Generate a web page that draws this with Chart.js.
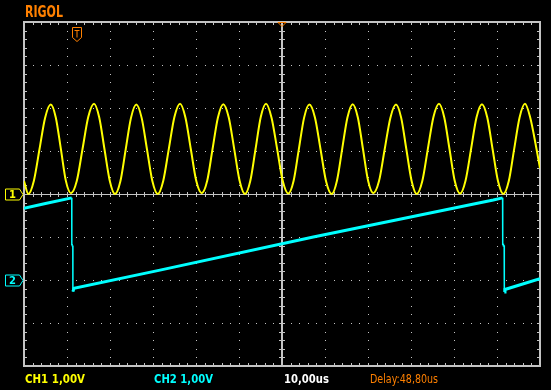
<!DOCTYPE html>
<html>
<head>
<meta charset="utf-8">
<script src="https://cdn.jsdelivr.net/npm/chart.js@4.4.1/dist/chart.umd.min.js"></script>
<style>
  html, body { margin: 0; padding: 0; background: #000; overflow: hidden; }
  canvas { display: block; }
</style>
</head>
<body>
<canvas id="scope" width="551" height="390"></canvas>
<script>
// Rigol screen capture: CH1 sine, CH2 sawtooth, 10us/div, 1V/div

// CH1 - time (us from left edge of screen) and volts, one row per period
const ch1Time = [
  0,
  1.0, 2.3, 3.6, 4.9, 6.21, 7.39, 8.57, 9.75,
  10.93, 12.27, 13.6, 14.94, 16.28, 17.5, 18.72, 19.94,
  21.16, 22.4, 23.64, 24.88, 26.12, 27.36, 28.6, 29.85,
  31.09, 32.39, 33.68, 34.98, 36.28, 37.54, 38.8, 40.07,
  41.33, 42.59, 43.84, 45.1, 46.35, 47.62, 48.88, 50.14,
  51.4, 52.62, 53.84, 55.06, 56.28, 57.58, 58.88, 60.18,
  61.47, 62.69, 63.9, 65.13, 66.35, 67.66, 68.96, 70.26,
  71.56, 72.78, 74.0, 75.22, 76.44, 77.64, 78.84, 80.04,
  81.23, 82.56, 83.88, 85.2, 86.51, 87.72, 88.92, 90.13,
  91.33, 92.63, 93.92, 95.22, 96.51, 97.74, 98.96, 100.18,
  101.4, 102.68, 103.96, 105.23, 106.5, 107.74, 108.98, 110.23,
  111.47, 112.74, 114.0, 115.25, 116.5, 117.75, 119.2, 120
];
const ch1Volts = [
  0.3,
  0.0, 0.31, 1.04, 1.77, 2.08, 1.78, 1.05, 0.3,
  0.02, 0.3, 1.04, 1.79, 2.1, 1.78, 1.04, 0.31,
  0.0, 0.29, 1.03, 1.77, 2.08, 1.77, 1.04, 0.3,
  0.0, 0.31, 1.05, 1.79, 2.1, 1.78, 1.04, 0.3,
  0.02, 0.3, 1.04, 1.78, 2.09, 1.78, 1.05, 0.31,
  0.0, 0.3, 1.04, 1.79, 2.1, 1.77, 1.04, 0.3,
  0.01, 0.3, 1.03, 1.77, 2.08, 1.78, 1.04, 0.29,
  0.0, 0.31, 1.05, 1.78, 2.09, 1.78, 1.04, 0.3,
  0.02, 0.3, 1.04, 1.77, 2.08, 1.77, 1.04, 0.31,
  0.0, 0.3, 1.05, 1.79, 2.1, 1.78, 1.04, 0.3,
  0.01, 0.31, 1.04, 1.78, 2.09, 1.78, 1.04, 0.3,
  0.0, 0.3, 1.05, 1.78, 2.1, 1.77, 1.04, 0.6
];

// CH2 - sawtooth
const ch2Time = [0, 5.0, 11.1, 11.12, 11.35, 11.37, 11.63, 31.63, 67.28, 109.14,
  111.3, 111.33, 111.67, 111.7, 111.86, 120];
const ch2Volts = [1.67, 1.78, 1.91, 0.8, 0.8, -0.27, -0.19, 0.23, 1.0, 1.86,
  1.91, 0.81, 0.81, -0.28, -0.22, 0.03];

// channel ground positions in divisions from screen centre
const ch1Offset = 0;
const ch2Offset = -2;
const triggerTime = 11.2;

const statusLabels = ['CH1 1,00V', 'CH2 1,00V', '10,00us', 'Delay:48,80us'];

const colors = {
  ch1: '#ffff00',
  ch2: '#00ffff',
  grid: '#c4c4c4',
  orange: '#ff8000',
  white: '#ffffff'
};

function toPoints(times, volts, offset) {
  return times.map((t, i) => ({ x: t, y: volts[i] + offset }));
}

const graticule = {
  id: 'graticule',
  beforeDatasetsDraw(chart) {
    const { ctx, chartArea: a } = chart;
    const dx = (a.right - a.left) / 12;
    const dy = (a.bottom - a.top) / 8;
    ctx.save();
    ctx.fillStyle = colors.grid;

    // dotted division lines
    for (let i = 1; i < 12; i++) {
      if (i === 6) continue;
      const px = Math.round(a.left + i * dx);
      for (let k = 1; k < 40; k++) {
        ctx.fillRect(px, Math.round(a.top + k * dy / 5), 1, 1);
      }
    }
    for (let j = 1; j < 8; j++) {
      if (j === 4) continue;
      const py = Math.round(a.top + j * dy);
      for (let k = 1; k < 60; k++) {
        ctx.fillRect(Math.round(a.left + k * dx / 5), py, 1, 1);
      }
    }

    // centre cross with small ticks
    const cx = Math.round(a.left + 6 * dx);
    const cy = Math.round(a.top + 4 * dy);
    ctx.fillRect(cx - 1, a.top, 2, a.bottom - a.top);
    ctx.fillRect(a.left, cy, a.right - a.left, 1);
    for (let k = 1; k < 40; k++) {
      ctx.fillRect(cx - 3, Math.round(a.top + k * dy / 5), 6, 1);
    }
    for (let k = 1; k < 60; k++) {
      ctx.fillRect(Math.round(a.left + k * dx / 5), cy - 2, 1, 5);
    }

    // border with inward ticks
    const w = a.right - a.left;
    const h = a.bottom - a.top;
    ctx.fillRect(a.left - 1, a.top - 1, w + 2, 2);
    ctx.fillRect(a.left - 1, a.bottom - 1, w + 2, 2);
    ctx.fillRect(a.left - 1, a.top - 1, 2, h + 2);
    ctx.fillRect(a.right - 1, a.top - 1, 2, h + 2);
    for (let k = 1; k < 60; k++) {
      const px = Math.round(a.left + k * dx / 5);
      ctx.fillRect(px, a.top + 1, 1, 2);
      ctx.fillRect(px, a.bottom - 3, 1, 2);
    }
    for (let k = 1; k < 40; k++) {
      const py = Math.round(a.top + k * dy / 5);
      ctx.fillRect(a.left + 1, py, 2, 1);
      ctx.fillRect(a.right - 3, py, 2, 1);
    }
    ctx.restore();
  }
};

function channelMarker(ctx, y, color, label) {
  ctx.save();
  ctx.strokeStyle = color;
  ctx.lineWidth = 1;
  ctx.beginPath();
  ctx.moveTo(5.5, y - 5.5);
  ctx.lineTo(19.5, y - 5.5);
  ctx.lineTo(23, y);
  ctx.lineTo(19.5, y + 5.5);
  ctx.lineTo(5.5, y + 5.5);
  ctx.closePath();
  ctx.stroke();
  ctx.fillStyle = color;
  ctx.font = 'bold 10px "DejaVu Sans"';
  ctx.textAlign = 'center';
  ctx.textBaseline = 'middle';
  ctx.fillText(label, 12.5, y + 0.5);
  ctx.restore();
}

const overlay = {
  id: 'overlay',
  afterDraw(chart) {
    const { ctx, chartArea: a, scales: { x, y } } = chart;
    ctx.save();

    // header
    ctx.fillStyle = colors.orange;
    ctx.font = 'bold 15px "DejaVu Sans"';
    ctx.textBaseline = 'middle';
    ctx.fillText('RIGOL', 25, 13.5, 38);

    // trigger position marker at top centre
    const cx = Math.round((a.left + a.right) / 2);
    ctx.strokeStyle = colors.orange;
    ctx.lineWidth = 1;
    ctx.beginPath();
    ctx.moveTo(cx - 4, a.top + 0.5);
    ctx.lineTo(cx + 4, a.top + 0.5);
    ctx.lineTo(cx, a.top + 4.5);
    ctx.closePath();
    ctx.stroke();

    // trigger point marker "T"
    const tl = Math.round(x.getPixelForValue(triggerTime)) + 0.5;
    const tr = tl + 9;
    const tm = (tl + tr) / 2;
    ctx.beginPath();
    ctx.moveTo(tl, 27.5);
    ctx.lineTo(tr, 27.5);
    ctx.lineTo(tr, 37.5);
    ctx.lineTo(tm, 41.5);
    ctx.lineTo(tl, 37.5);
    ctx.closePath();
    ctx.stroke();
    ctx.beginPath();
    ctx.moveTo(tl + 2, 30.5);
    ctx.lineTo(tr - 2, 30.5);
    ctx.moveTo(tm, 30.5);
    ctx.lineTo(tm, 37.5);
    ctx.stroke();

    // channel ground markers
    channelMarker(ctx, Math.round(y.getPixelForValue(ch1Offset)) + 0.5, colors.ch1, '1');
    channelMarker(ctx, Math.round(y.getPixelForValue(ch2Offset)) + 0.5, colors.ch2, '2');

    // status line
    ctx.textBaseline = 'middle';
    ctx.font = 'bold 13px "DejaVu Sans"';
    ctx.fillStyle = colors.ch1;
    ctx.fillText(statusLabels[0], 25, 380, 60);
    ctx.fillStyle = colors.ch2;
    ctx.fillText(statusLabels[1], 154, 380, 59);
    ctx.fillStyle = colors.white;
    ctx.fillText(statusLabels[2], 284, 380, 45);
    ctx.fillStyle = colors.orange;
    ctx.font = '12px "DejaVu Sans"';
    ctx.fillText(statusLabels[3], 370, 380, 68);
    ctx.restore();
  }
};

new Chart(document.getElementById('scope'), {
  type: 'line',
  data: {
    datasets: [
      {
        label: 'CH1',
        data: toPoints(ch1Time, ch1Volts, ch1Offset),
        borderColor: colors.ch1,
        borderWidth: 2,
        pointRadius: 0,
        cubicInterpolationMode: 'monotone',
        fill: false
      },
      {
        label: 'CH2',
        data: toPoints(ch2Time, ch2Volts, ch2Offset),
        borderColor: colors.ch2,
        borderWidth: 3,
        pointRadius: 0,
        tension: 0,
        fill: false,
        // the fast edges are thin, the noisy ramp is a wider band
        segment: {
          borderWidth: c => (Math.abs(c.p1.parsed.x - c.p0.parsed.x) < 0.1 ? 1.5 : 3)
        }
      }
    ]
  },
  options: {
    responsive: false,
    animation: false,
    devicePixelRatio: 1,
    layout: { padding: { left: 24, right: 11, top: 22, bottom: 24 } },
    plugins: {
      legend: { display: false },
      tooltip: { enabled: false }
    },
    scales: {
      x: { type: 'linear', min: 0, max: 120, display: false },
      y: { type: 'linear', min: -4, max: 4, display: false }
    }
  },
  plugins: [graticule, overlay]
});
</script>
</body>
</html>
